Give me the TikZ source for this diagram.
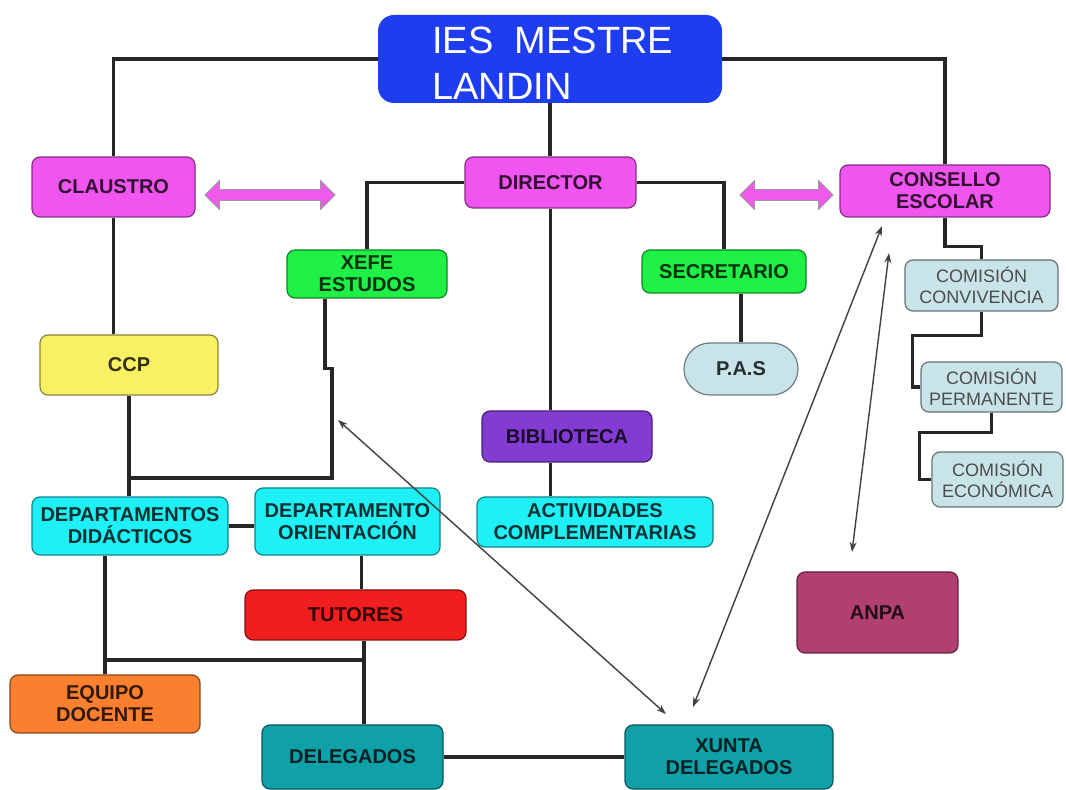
\documentclass[tikz,border=0pt]{standalone}
\usepackage{fontspec}
\setmainfont{Liberation Sans}
\usetikzlibrary{shapes.arrows,arrows.meta}

\definecolor{schoolblue}{RGB}{30,60,240}
\definecolor{boardpink}{RGB}{240,85,240}
\definecolor{arrowpink}{RGB}{240,90,235}
\definecolor{staffgreen}{RGB}{30,240,70}
\definecolor{ccpyellow}{RGB}{250,240,100}
\definecolor{paleblue}{RGB}{200,228,232}
\definecolor{deptcyan}{RGB}{30,240,245}
\definecolor{libpurple}{RGB}{130,60,210}
\definecolor{tutorred}{RGB}{240,30,30}
\definecolor{teamorange}{RGB}{250,128,48}
\definecolor{delegteal}{RGB}{16,160,168}
\definecolor{anpapink}{RGB}{176,64,112}

\tikzset{
	unit/.style={draw=#1!55!black, fill=#1, text=#1!20!black, rounded corners=4pt, line width=0.6pt,
		align=center, inner sep=0pt, font=\bfseries\fontsize{10}{11}\selectfont},
	comision/.style={draw=paleblue!50!black, fill=paleblue, text=black!70, rounded corners=4pt, line width=0.6pt,
		align=center, inner sep=0pt, font=\fontsize{9}{10.5}\selectfont},
	link/.style={line width=1.6pt, black!85},
	thinlink/.style={line width=0.7pt, black!75, {Stealth[length=5pt,width=3.5pt]}-{Stealth[length=5pt,width=3.5pt]}},
	fatarrow/.style={double arrow, fill=arrowpink, draw=black!40, double arrow head extend=4.5pt,
		minimum width=14pt, inner sep=2.5pt},
}

\begin{document}
\begin{tikzpicture}[x=0.5pt, y=-0.5pt]
	\useasboundingbox (0,0) rectangle (1066,790);

	\node[fill=schoolblue, rounded corners=8pt, minimum width=172pt, minimum height=44pt, inner sep=0pt] (school) at (550,59) {};
	\node[anchor=north west, align=left, text=white, inner sep=0pt, font=\fontsize{19}{23}\selectfont] (schoolname) at (432,27) {IES\ \ MESTRE\\LANDIN};

	\node[unit=boardpink, minimum width=81.5pt, minimum height=30pt] (claustro) at (113.5,187) {CLAUSTRO};
	\node[unit=boardpink, minimum width=85.5pt, minimum height=25.5pt] (director) at (550.5,182.5) {DIRECTOR};
	\node[unit=boardpink, minimum width=105pt, minimum height=26pt] (consello) at (945,191) {CONSELLO\\ESCOLAR};

	\node[fatarrow, minimum height=65pt] (arrowleft) at (270,195) {};
	\node[fatarrow, minimum height=46.5pt] (arrowright) at (786.5,195) {};

	\node[unit=staffgreen, minimum width=80pt, minimum height=24pt] (xefe) at (367,274) {XEFE\\ESTUDOS};
	\node[unit=staffgreen, minimum width=82pt, minimum height=21.5pt] (secretario) at (724,271.5) {SECRETARIO};
	\node[unit=paleblue, rounded corners=13pt, minimum width=57pt, minimum height=26pt] (pas) at (741,369) {P.A.S};

	\node[comision, minimum width=76.5pt, minimum height=25.5pt] (convivencia) at (981.5,285.5) {COMISIÓN\\CONVIVENCIA};
	\node[comision, minimum width=70.5pt, minimum height=25pt] (permanente) at (991.5,387) {COMISIÓN\\PERMANENTE};
	\node[comision, minimum width=65.5pt, minimum height=27.5pt] (economica) at (997.5,479.5) {COMISIÓN\\ECONÓMICA};

	\node[unit=ccpyellow, minimum width=89pt, minimum height=30pt] (ccp) at (129,365) {CCP};
	\node[unit=libpurple, minimum width=85pt, minimum height=25.5pt] (biblioteca) at (567,436.5) {BIBLIOTECA};
	\node[unit=deptcyan, minimum width=98pt, minimum height=29pt] (didacticos) at (130,526) {DEPARTAMENTOS\\DIDÁCTICOS};
	\node[unit=deptcyan, minimum width=92.5pt, minimum height=33.5pt] (orientacion) at (347.5,521.5) {DEPARTAMENTO\\ORIENTACIÓN};
	\node[unit=deptcyan, minimum width=118pt, minimum height=25pt] (actividades) at (595,522) {ACTIVIDADES\\COMPLEMENTARIAS};
	\node[unit=tutorred, minimum width=110.5pt, minimum height=25pt] (tutores) at (355.5,615) {TUTORES};
	\node[unit=teamorange, minimum width=95pt, minimum height=29pt] (equipo) at (105,704) {EQUIPO\\DOCENTE};
	\node[unit=delegteal, minimum width=90.5pt, minimum height=32pt] (delegados) at (352.5,757) {DELEGADOS};
	\node[unit=delegteal, minimum width=104pt, minimum height=32pt] (xunta) at (729,757) {XUNTA\\DELEGADOS};
	\node[unit=anpapink, minimum width=80.5pt, minimum height=40.5pt] (anpa) at (877.5,612.5) {ANPA};

	\draw[link] (school.west) -| (claustro.north);
	\draw[link] (school.east) -| (consello.north);
	\draw[link] (school.south) -- (school.south |- director.north);
	\draw[link] (director.west) -| (xefe.north);
	\draw[link] (director.east) -| (secretario.north);
	\draw[link] (director.south) -- (director.south |- biblioteca.north);
	\draw[link] (director.south |- biblioteca.south) -- (director.south |- actividades.north);
	\draw[link] (secretario.south -| pas.north) -- (pas.north);

	\draw[link] (consello.south) -- ++(0,29) -| (convivencia.north);
	\draw[link] (convivencia.south) -- ++(0,24) -- ++(-69,0) |- (permanente.west);
	\draw[link] (permanente.south) -- ++(0,20) -- ++(-72,0) |- (economica.west);

	\draw[link] (claustro.south) -- (claustro.south |- ccp.north);
	\draw[link] (ccp.south) -- (ccp.south |- didacticos.north);
	\coordinate (ccpjoin) at (129,478);
	\draw[link] ([xshift=-21pt]xefe.south) -- ++(0,70) -- ++(7,0) |- (ccpjoin);
	\draw[link] (didacticos.east) -- (didacticos.east -| orientacion.west);
	\draw[link] ([xshift=7pt]orientacion.south) -- ([xshift=7pt]orientacion.south |- tutores.north);
	\draw[link] (equipo.north |- didacticos.south) -- (equipo.north);
	\coordinate (tutorjoin) at (364,660);
	\draw[link] (equipo.north |- tutorjoin) -- (tutorjoin);
	\draw[link] (tutorjoin |- tutores.south) -- (tutorjoin |- delegados.north);
	\draw[link] (delegados.east) -- (xunta.west);

	\coordinate (xefeend) at (338,420);
	\coordinate (xuntaleft) at (666,714);
	\coordinate (xuntaright) at (693,707);
	\coordinate (conselloend) at (882,226);
	\coordinate (conselloend2) at (889,253);
	\coordinate (anpaend) at (852,552);
	\draw[thinlink] (xefeend) -- (xuntaleft);
	\draw[thinlink] (xuntaright) -- (conselloend);
	\draw[thinlink] (conselloend2) -- (anpaend);
\end{tikzpicture}
\end{document}
